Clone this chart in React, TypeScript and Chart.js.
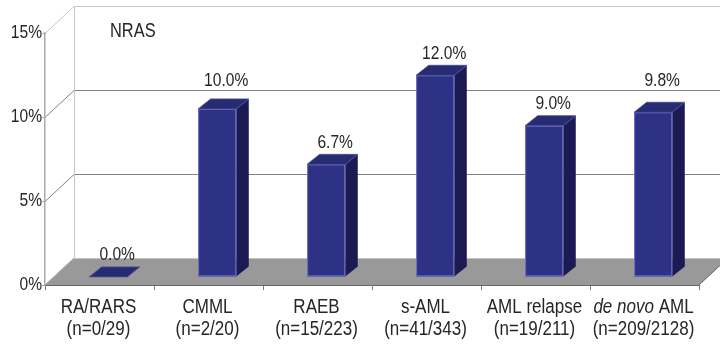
import React, { useEffect, useRef } from "react";
import { Chart, registerables } from "chart.js";

Chart.register(...registerables);

const title = "NRAS";
const categories = ["RA/RARS", "CMML", "RAEB", "s-AML", "AML relapse", "de novo AML"];
const italicPrefixes = ["", "", "", "", "", "de novo"];
const sampleCounts = ["(n=0/29)", "(n=2/20)", "(n=15/223)", "(n=41/343)", "(n=19/211)", "(n=209/2128)"];
const values = [0, 10.0, 6.7, 12.0, 9.0, 9.8];
const yTicks = [0, 5, 10, 15];

const FONT = '"Liberation Sans", Arial, sans-serif';
const NARROW = 0.82;
const CAT_NARROW = 0.85;
const DEPTH = { dx: 29, dy: -27 };
const BAR_FRONT = 0.3;
const BAR_DEPTH = { dx: 12.5, dy: -10 };

const COLORS = {
  floor: "#999999",
  grid: "#808080",
  gridLight: "#c8c8c8",
  barFront: "#2d3287",
  barTop: "#272b72",
  barSide: "#1b1a52",
  barEdge: "#7475c0",
  text: "#262626",
};

function line(ctx: CanvasRenderingContext2D, pts: number[][]) {
  ctx.beginPath();
  ctx.moveTo(pts[0][0], pts[0][1]);
  for (let i = 1; i < pts.length; i++) ctx.lineTo(pts[i][0], pts[i][1]);
  ctx.stroke();
}

function poly(ctx: CanvasRenderingContext2D, pts: number[][], fill: string) {
  ctx.beginPath();
  ctx.moveTo(pts[0][0], pts[0][1]);
  for (let i = 1; i < pts.length; i++) ctx.lineTo(pts[i][0], pts[i][1]);
  ctx.closePath();
  ctx.fillStyle = fill;
  ctx.fill();
}

function fontStr(size: number, italic = false) {
  return `${italic ? "italic " : ""}${size}px ${FONT}`;
}

// condensed text: real text drawn with a horizontal squeeze
function text(
  ctx: CanvasRenderingContext2D,
  s: string,
  x: number,
  y: number,
  align: CanvasTextAlign,
  size = 19,
  italic = false,
  narrow = NARROW
) {
  ctx.save();
  ctx.font = fontStr(size, italic);
  ctx.fillStyle = COLORS.text;
  ctx.textAlign = align;
  ctx.textBaseline = "middle";
  ctx.translate(x, y);
  ctx.scale(narrow, 1);
  ctx.fillText(s, 0, 0);
  ctx.restore();
}

function textWidth(ctx: CanvasRenderingContext2D, s: string, size = 19, italic = false, narrow = NARROW) {
  ctx.save();
  ctx.font = fontStr(size, italic);
  const w = ctx.measureText(s).width * narrow;
  ctx.restore();
  return w;
}

const threeD = {
  id: "threeD",
  beforeDraw(chart: any) {
    const { ctx, chartArea: a, scales } = chart;
    const y = scales.y;
    const W = chart.width;
    const y0 = y.getPixelForValue(0);
    ctx.save();
    // floor
    poly(ctx, [
      [a.left, y0],
      [a.right, y0],
      [a.right + DEPTH.dx, y0 + DEPTH.dy],
      [a.left + DEPTH.dx, y0 + DEPTH.dy],
    ], COLORS.floor);
    ctx.lineWidth = 1;
    ctx.strokeStyle = "#c4c4c4";
    line(ctx, [[a.left + DEPTH.dx, y0 + DEPTH.dy + 0.5], [W, y0 + DEPTH.dy + 0.5]]);
    ctx.strokeStyle = "#666";
    line(ctx, [[a.right, y0], [a.right + DEPTH.dx, y0 + DEPTH.dy]]);
    ctx.strokeStyle = "#aaa";
    line(ctx, [[a.left, y0], [a.left + DEPTH.dx, y0 + DEPTH.dy]]);
    // walls / gridlines
    const maxV = yTicks[yTicks.length - 1];
    for (const v of yTicks) {
      if (v === 0) continue;
      const py = Math.round(y.getPixelForValue(v)) + 0.5;
      ctx.strokeStyle = v === maxV ? COLORS.gridLight : COLORS.grid;
      line(ctx, [[a.left, py], [a.left + DEPTH.dx, py + DEPTH.dy], [W, py + DEPTH.dy]]);
    }
    ctx.strokeStyle = COLORS.gridLight;
    const bx = Math.round(a.left + DEPTH.dx) + 0.5;
    line(ctx, [[bx, y.getPixelForValue(maxV) + DEPTH.dy], [bx, y0 + DEPTH.dy]]);
    ctx.restore();
  },
  afterDatasetsDraw(chart: any) {
    const { ctx, scales, chartArea: a } = chart;
    const y = scales.y;
    const x = scales.x;
    const meta = chart.getDatasetMeta(0);
    const fx = DEPTH.dx * BAR_FRONT;
    const fy = DEPTH.dy * BAR_FRONT;
    const gridBack = yTicks.filter((v) => v > 0).map((v) => y.getPixelForValue(v) + DEPTH.dy);
    ctx.save();
    meta.data.forEach((bar: any, i: number) => {
      const p = bar.getProps(["x", "y", "base", "width"], true);
      const x0 = p.x - p.width / 2 + fx;
      const x1 = x0 + p.width;
      const yt = p.y + fy;
      const yb = p.base + fy;
      const { dx, dy } = BAR_DEPTH;
      if (yb - yt > 0.5) {
        poly(ctx, [[x1, yt], [x1 + dx, yt + dy], [x1 + dx, yb + dy], [x1, yb]], COLORS.barSide);
        poly(ctx, [[x0, yt], [x1, yt], [x1, yb], [x0, yb]], COLORS.barFront);
        ctx.strokeStyle = COLORS.barEdge;
        ctx.lineWidth = 1;
        ctx.strokeRect(x0 + 0.5, yt + 0.5, x1 - x0 - 1, yb - yt - 1);
      }
      poly(ctx, [[x0, yt], [x1, yt], [x1 + dx, yt + dy], [x0 + dx, yt + dy]], COLORS.barTop);
      ctx.strokeStyle = "#4a4c96";
      ctx.lineWidth = 0.8;
      ctx.beginPath();
      ctx.moveTo(x0, yt); ctx.lineTo(x1, yt); ctx.lineTo(x1 + dx, yt + dy); ctx.lineTo(x0 + dx, yt + dy); ctx.closePath();
      ctx.stroke();

      // value label
      let ly = yt + dy - 12;
      for (const g of gridBack) {
        if (Math.abs(ly - g) < 8) ly = g - 9;
      }
      text(ctx, values[i].toFixed(1) + "%", (x0 + x1) / 2 + 9, ly, "center");
    });

    // y tick labels
    for (const v of yTicks) {
      text(ctx, v + "%", a.left - 3, y.getPixelForValue(v), "right");
    }

    // category labels
    const cs = 20;
    categories.forEach((cat, i) => {
      const cx = x.getPixelForValue(i) - 1;
      const pre = italicPrefixes[i];
      if (pre && cat.startsWith(pre)) {
        const rest = cat.slice(pre.length);
        const w1 = textWidth(ctx, pre, cs, true, CAT_NARROW);
        const w2 = textWidth(ctx, rest, cs, false, CAT_NARROW);
        const start = cx - (w1 + w2) / 2;
        text(ctx, pre, start, 307, "left", cs, true, CAT_NARROW);
        text(ctx, rest, start + w1, 307, "left", cs, false, CAT_NARROW);
      } else {
        text(ctx, cat, cx, 307, "center", cs, false, CAT_NARROW);
      }
      text(ctx, sampleCounts[i], cx, 329, "center", cs, false, CAT_NARROW);
    });

    // title
    text(ctx, title, 110, 31, "left", 20);
    ctx.restore();
  },
};

export default function App() {
  const ref = useRef<HTMLCanvasElement | null>(null);
  useEffect(() => {
    if (!ref.current) return;
    const chart = new Chart(ref.current, {
      type: "bar",
      data: {
        labels: categories,
        datasets: [
          {
            data: values,
            backgroundColor: "rgba(0,0,0,0)",
            borderWidth: 0,
            barPercentage: 0.7,
            categoryPercentage: 0.5,
          },
        ],
      },
      options: {
        animation: false,
        responsive: true,
        maintainAspectRatio: false,
        layout: { padding: { top: 33, right: 21, left: 0, bottom: 0 } },
        plugins: { legend: { display: false }, tooltip: { enabled: false } },
        scales: {
          x: {
            ticks: { display: false },
            grid: { drawOnChartArea: false, tickLength: 5, color: "#777", offset: true },
            border: { color: "#666", width: 1 },
            afterFit: (s: any) => {
              s.height = 59;
            },
          },
          y: {
            min: 0,
            max: 15,
            afterBuildTicks: (s: any) => {
              s.ticks = yTicks.map((v) => ({ value: v }));
            },
            ticks: { display: false },
            grid: { drawOnChartArea: false, tickLength: 3, color: "#aaa" },
            border: { color: "#aaa", width: 1.5 },
            afterFit: (s: any) => {
              s.width = 45;
            },
          },
        },
      },
      plugins: [threeD],
    });
    return () => chart.destroy();
  }, []);
  return (
    <div style={{ position: "absolute", left: 0, top: 0, width: 720, height: 344, background: "#fff" }}>
      <canvas ref={ref} />
    </div>
  );
}
